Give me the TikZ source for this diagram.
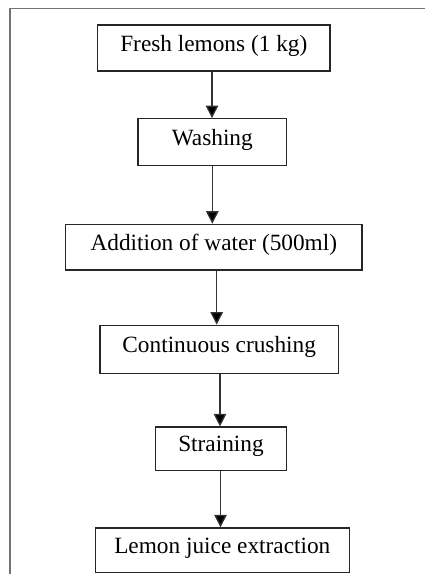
\documentclass[tikz,border=0pt]{standalone}
\usepackage{fontspec}
\setmainfont{Liberation Serif}
\usetikzlibrary{arrows.meta}
\begin{document}
\begin{tikzpicture}[x=1pt,y=-1pt,
  box/.style={draw=black!85, line width=1.3pt, inner sep=0pt,
    font=\fontsize{23.3}{28}\selectfont, text height=0.72em, text depth=0.1em, align=center},
  flow/.style={draw=black!80, line width=1.3pt, -{Triangle[width=12.5pt,length=12.5pt,fill=black]}},
  frame/.style={draw=black!55, line width=1.6pt}]
\useasboundingbox (0,0) rectangle (424,574);
\draw[frame] (10,575) -- (10,8.6) -- (425,8.6);
\node[box, minimum width=232.3pt, minimum height=46pt] (n1) at (213.8,48) {Fresh lemons (1 kg)};
\node[box, minimum width=148.7pt, minimum height=46.6pt] (n2) at (212.3,142) {Washing};
\node[box, minimum width=296.3pt, minimum height=45.7pt] (n3) at (213.8,247.2) {Addition of water (500ml)};
\node[box, minimum width=238.3pt, minimum height=48pt] (n4) at (219.2,349.3) {Continuous crushing};
\node[box, minimum width=131.3pt, minimum height=43.5pt] (n5) at (221,448.8) {Straining};
\node[box, minimum width=254pt, minimum height=44.7pt] (n6) at (222.3,550.3) {Lemon juice extraction};
\coordinate (x1) at (212,0);
\coordinate (x2) at (212.3,0);
\coordinate (x3) at (216.7,0);
\coordinate (x4) at (220,0);
\coordinate (x5) at (220.5,0);
\draw[flow] (n1.south -| x1) -- (n2.north -| x1);
\draw[flow] (n2.south -| x2) -- (n3.north -| x2);
\draw[flow] (n3.south -| x3) -- (n4.north -| x3);
\draw[flow] (n4.south -| x4) -- (n5.north -| x4);
\draw[flow] (n5.south -| x5) -- (n6.north -| x5);
\end{tikzpicture}
\end{document}
